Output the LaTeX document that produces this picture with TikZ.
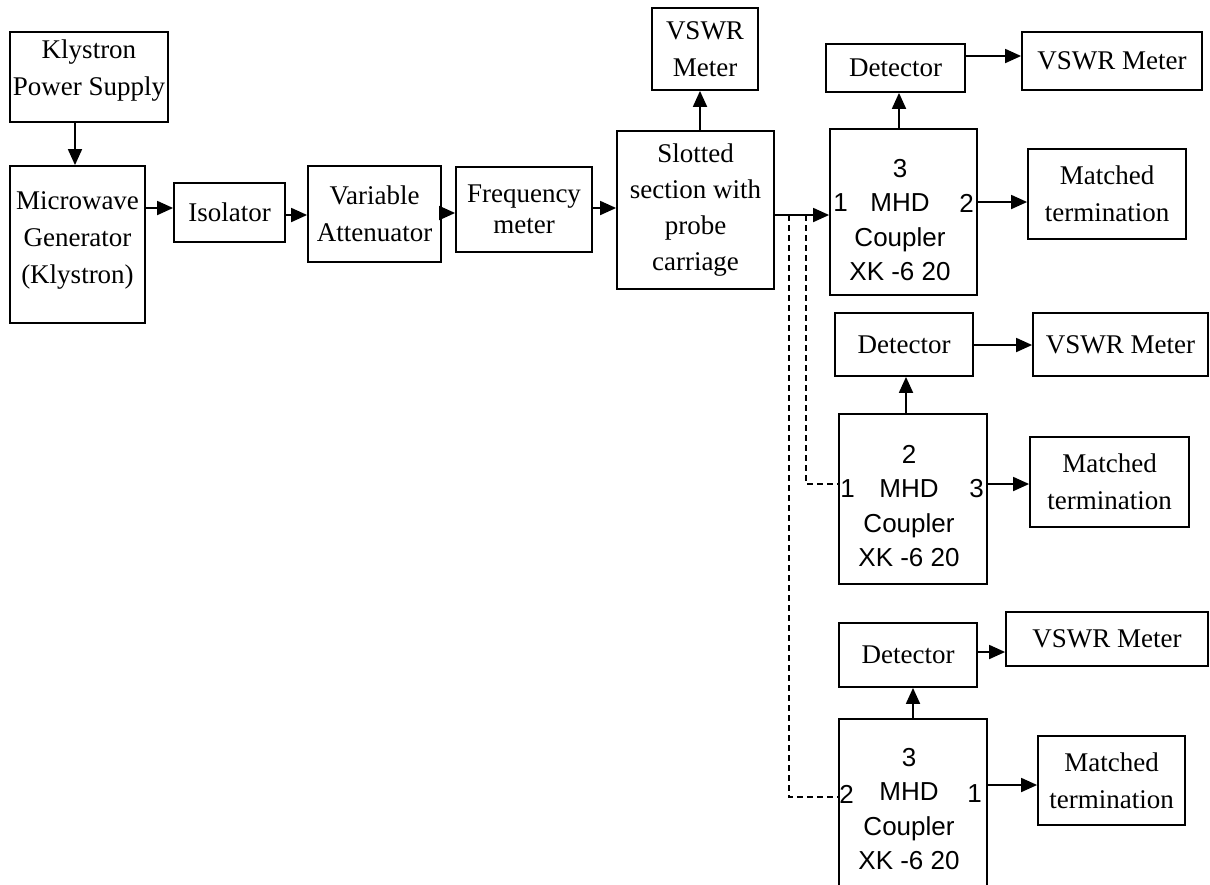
\documentclass[tikz,border=0pt]{standalone}
\usepackage{fontspec}
\setmainfont{Liberation Serif}
\newfontfamily\cplfont{Liberation Sans}
\usetikzlibrary{arrows.meta}
\begin{document}
\begin{tikzpicture}[x=1pt,y=-1pt,
 box/.style={draw, line width=1.8pt, inner sep=0pt, align=center, font=\fontsize{27}{37}\selectfont},
 txt/.style={inner sep=0pt, align=center, font=\fontsize{27}{37}\selectfont},
 ctxt/.style={inner sep=0pt, align=center, font=\cplfont\fontsize{26}{34.5}\selectfont},
 arr/.style={line width=1.8pt, -{Triangle[length=16pt,width=14pt]}},
 dsh/.style={line width=1.5pt, dash pattern=on 6pt off 4pt}]
\useasboundingbox (0,0) rectangle (1210,884);
\fill[white] (0,0) rectangle (1210,884);

% left chain
\node[box, minimum width=158, minimum height=90] (kps) at (89,77) {};
\node[txt] (kpst) at (89,71) {Klystron\\Power Supply};
\node[box, minimum width=135, minimum height=157] (mg) at (77.5,244.5) {};
\node[txt] (mgt) at (77.5,240) {Microwave\\Generator\\(Klystron)};
\node[box, minimum width=111, minimum height=59] (iso) at (229.5,212.5) {Isolator};
\node[box, minimum width=133, minimum height=96] (va) at (374.5,214) {Variable\\Attenuator};
\node[box, minimum width=136, minimum height=85, font=\fontsize{27}{31}\selectfont] (fm) at (524,209.5) {Frequency\\meter};
\node[box, minimum width=157, minimum height=158, font=\fontsize{27}{36}\selectfont] (slot) at (695.5,210) {Slotted\\section with\\probe\\carriage};
\node[box, minimum width=106, minimum height=82] (vs0) at (705,49) {VSWR\\Meter};

% coupler 1
\node[box, minimum width=147, minimum height=166] (c1) at (903.5,212) {};
\node[ctxt] (c1t) at (900,220) {3\\MHD\\Coupler\\XK -6 20};
\node[ctxt, anchor=west] (c1a) at ([xshift=4pt]c1.west |- {(0,203)}) {1};
\node[ctxt, anchor=east] (c1b) at ([xshift=-4pt]c1.east |- {(0,203)}) {2};
\node[box, minimum width=139, minimum height=48] (d1) at (895.5,68) {Detector};
\node[box, minimum width=180, minimum height=58] (v1) at (1112,61) {VSWR Meter};
\node[box, minimum width=158, minimum height=90] (m1) at (1107,194) {Matched\\termination};

% coupler 2
\node[box, minimum width=148, minimum height=170] (c2) at (913,499) {};
\node[ctxt] (c2t) at (909,506) {2\\MHD\\Coupler\\XK -6 20};
\node[ctxt, anchor=west] (c2a) at ([xshift=2pt]c2.west |- {(0,489)}) {1};
\node[ctxt, anchor=east] (c2b) at ([xshift=-4pt]c2.east |- {(0,489)}) {3};
\node[box, minimum width=138, minimum height=63] (d2) at (904,344.5) {Detector};
\node[box, minimum width=175, minimum height=63] (v2) at (1120.5,344.5) {VSWR Meter};
\node[box, minimum width=159, minimum height=90] (m2) at (1109.5,482) {Matched\\termination};

% coupler 3
\node[box, minimum width=148, minimum height=172] (c3) at (913,805) {};
\node[ctxt] (c3t) at (909,809) {3\\MHD\\Coupler\\XK -6 20};
\node[ctxt, anchor=west] (c3a) at ([xshift=1pt]c3.west |- {(0,794)}) {2};
\node[ctxt, anchor=east] (c3b) at ([xshift=-6pt]c3.east |- {(0,794)}) {1};
\node[box, minimum width=138, minimum height=64] (d3) at (908,655) {Detector};
\node[box, minimum width=202, minimum height=54] (v3) at (1107,639) {VSWR Meter};
\node[box, minimum width=147, minimum height=89] (m3) at (1111.5,780.5) {Matched\\termination};

% connectors
\draw[arr] (kps.south -| {(75,0)}) -- (mg.north -| {(75,0)});
\draw[arr] (mg.east |- {(0,208)}) -- (iso.west |- {(0,208)});
\draw[arr] (iso.east |- {(0,215)}) -- (va.west |- {(0,215)});
\draw[arr] (va.east |- {(0,213)}) -- (fm.west |- {(0,213)});
\draw[arr] (fm.east |- {(0,208)}) -- (slot.west |- {(0,208)});
\draw[arr] (slot.north -| {(700,0)}) -- (vs0.south -| {(700,0)});
\draw[arr] (slot.east |- {(0,215)}) -- (c1.west |- {(0,215)});

\draw[arr] (c1.north -| {(899,0)}) -- (d1.south -| {(899,0)});
\draw[arr] (d1.east |- {(0,56)}) -- (v1.west |- {(0,56)});
\draw[arr] (c1.east |- {(0,202)}) -- (m1.west |- {(0,202)});

\draw[arr] (c2.north -| {(906,0)}) -- (d2.south -| {(906,0)});
\draw[arr] (d2.east |- {(0,345)}) -- (v2.west |- {(0,345)});
\draw[arr] (c2.east |- {(0,484)}) -- (m2.west |- {(0,484)});

\draw[arr] (c3.north -| {(913,0)}) -- (d3.south -| {(913,0)});
\draw[arr] (d3.east |- {(0,652)}) -- (v3.west |- {(0,652)});
\draw[arr] (c3.east |- {(0,785)}) -- (m3.west |- {(0,785)});

% dashed branches
\coordinate (t1) at (806,215);
\coordinate (t2) at (789,215);
\draw[dsh] (t1) -- (t1 |- {(0,484)}) -- (c2.west |- {(0,484)});
\draw[dsh] (t2) -- (t2 |- {(0,797)}) -- (c3.west |- {(0,797)});
\end{tikzpicture}
\end{document}
